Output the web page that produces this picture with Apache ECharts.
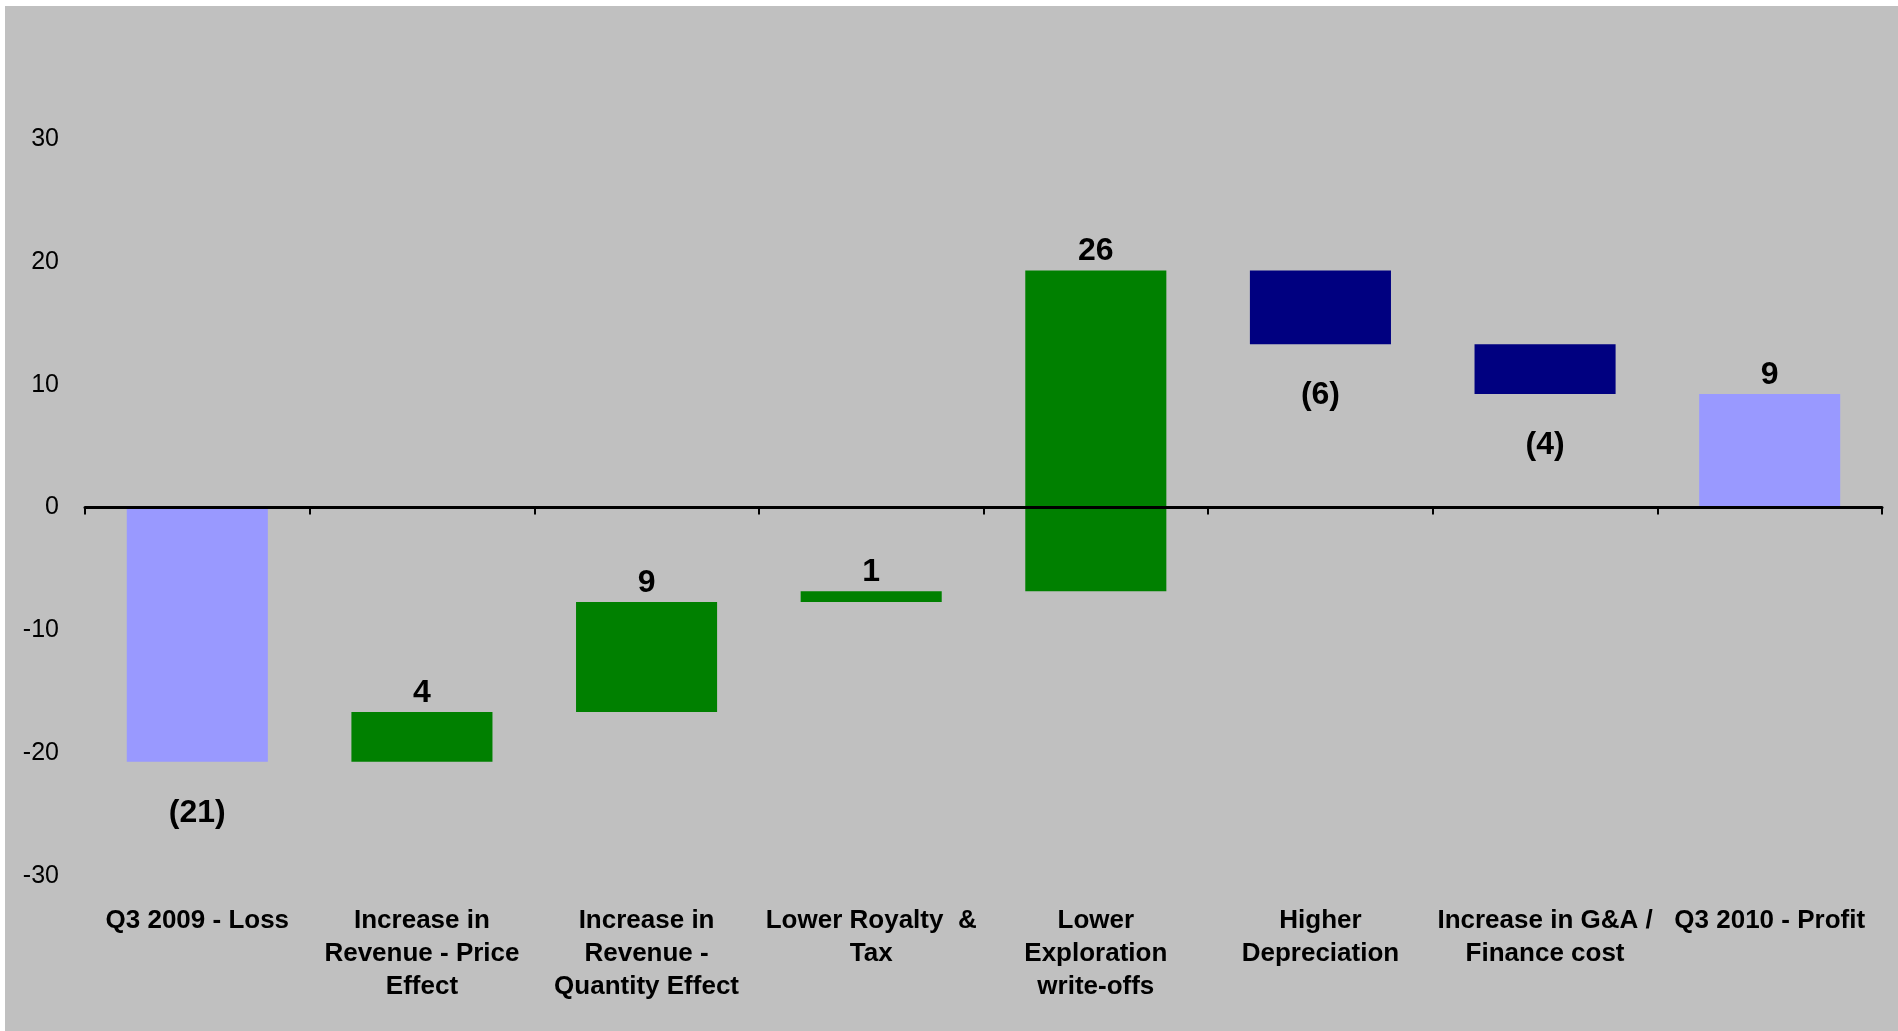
<!DOCTYPE html>
<html>
<head>
<meta charset="utf-8">
<script src="https://cdn.jsdelivr.net/npm/echarts@6/dist/echarts.min.js"></script>
<style>
    html, body {
        margin: 0;
        padding: 0;
        background: #fff;
    }

    #chart {
        position: absolute;
        left: 5px;
        top: 6px;
        width: 1893px;
        height: 1025px;
        background: #c0c0c0;
    }
</style>
</head>
<body>
<div id="chart"></div>
<script>
// categories on the x axis
const categories = [
    'Q3 2009 - Loss',
    'Increase in\nRevenue - Price\nEffect',
    'Increase in\nRevenue -\nQuantity Effect',
    'Lower Royalty  &\nTax',
    'Lower\nExploration\nwrite-offs',
    'Higher\nDepreciation',
    'Increase in G&A /\nFinance cost',
    'Q3 2010 - Profit'
]

// opening result and the changes that lead to the closing result
const openingValue = -20.7
const changes = [4.05, 8.95, 0.88, 26.12, -6.0, -4.05]

// y axis ticks
const yMin = -30
const yMax = 30
const yInterval = 10

const colorTotal = '#9999ff'
const colorUp = '#008000'
const colorDown = '#000080'

// build the waterfall rows: [index, from, to, value, kind]
const rows = []
rows.push([0, 0, openingValue, openingValue, 'total'])
let running = openingValue
changes.forEach(function (c, i) {
    rows.push([i + 1, running, running + c, c, c >= 0 ? 'up' : 'down'])
    running += c
})
rows.push([categories.length - 1, 0, running, running, 'total'])

function labelText(v) {
    const n = Math.round(Math.abs(v))
    return v < 0 ? '(' + n + ')' : String(n)
}

const myChart = echarts.init(document.getElementById('chart'))

myChart.setOption({
    animation: false,
    backgroundColor: '#c0c0c0',
    grid: {
        left: 80,
        right: 16,
        top: 133,
        bottom: 155
    },
    xAxis: [{
        type: 'category',
        data: categories,
        position: 'bottom',
        z: 5, // axis line sits on top of the bars
        axisLine: {
            onZero: true,
            lineStyle: { color: '#000', width: 3 }
        },
        axisTick: {
            show: true,
            length: 7,
            lineStyle: { color: '#000', width: 2 }
        },
        axisLabel: { show: false },
        splitLine: { show: false }
    }, {
        type: 'category',
        data: categories,
        position: 'bottom',
        offset: 0,
        axisLine: { show: false, onZero: false },
        axisTick: { show: false },
        splitLine: { show: false },
        axisLabel: {
            interval: 0,
            margin: 28,
            color: '#000',
            fontFamily: 'Liberation Sans, Arial, sans-serif',
            fontWeight: 'bold',
            fontSize: 26,
            lineHeight: 33,
            align: 'center'
        }
    }],
    yAxis: {
        type: 'value',
        min: yMin,
        max: yMax,
        interval: yInterval,
        axisLine: { show: false },
        axisTick: { show: false },
        splitLine: { show: false },
        axisLabel: {
            margin: 26,
            color: '#000',
            fontFamily: 'Liberation Sans, Arial, sans-serif',
            fontSize: 25
        }
    },
    series: [{
        type: 'custom',
        xAxisIndex: 0,
        z: 2,
        data: rows,
        encode: { x: 0, y: [1, 2] },
        renderItem: function (params, api) {
            const idx = api.value(0)
            const from = api.value(1)
            const to = api.value(2)
            const val = api.value(3)
            const kind = rows[params.dataIndex][4]
            const p1 = api.coord([idx, from])
            const p2 = api.coord([idx, to])
            const w = api.size([1, 0])[0] * 0.628
            const top = Math.min(p1[1], p2[1])
            const bottom = Math.max(p1[1], p2[1])
            const color = kind === 'total' ? colorTotal : (kind === 'up' ? colorUp : colorDown)
            const negative = val < 0
            return {
                type: 'group',
                children: [{
                    type: 'rect',
                    shape: {
                        x: p1[0] - w / 2,
                        y: top,
                        width: w,
                        height: bottom - top
                    },
                    style: { fill: color }
                }, {
                    type: 'text',
                    x: p1[0],
                    y: negative ? bottom + 51 : top - 19,
                    style: {
                        text: labelText(val),
                        fill: '#000',
                        font: 'bold 32px "Liberation Sans", Arial, sans-serif',
                        align: 'center',
                        verticalAlign: 'middle'
                    }
                }]
            }
        }
    }]
})
</script>
</body>
</html>
